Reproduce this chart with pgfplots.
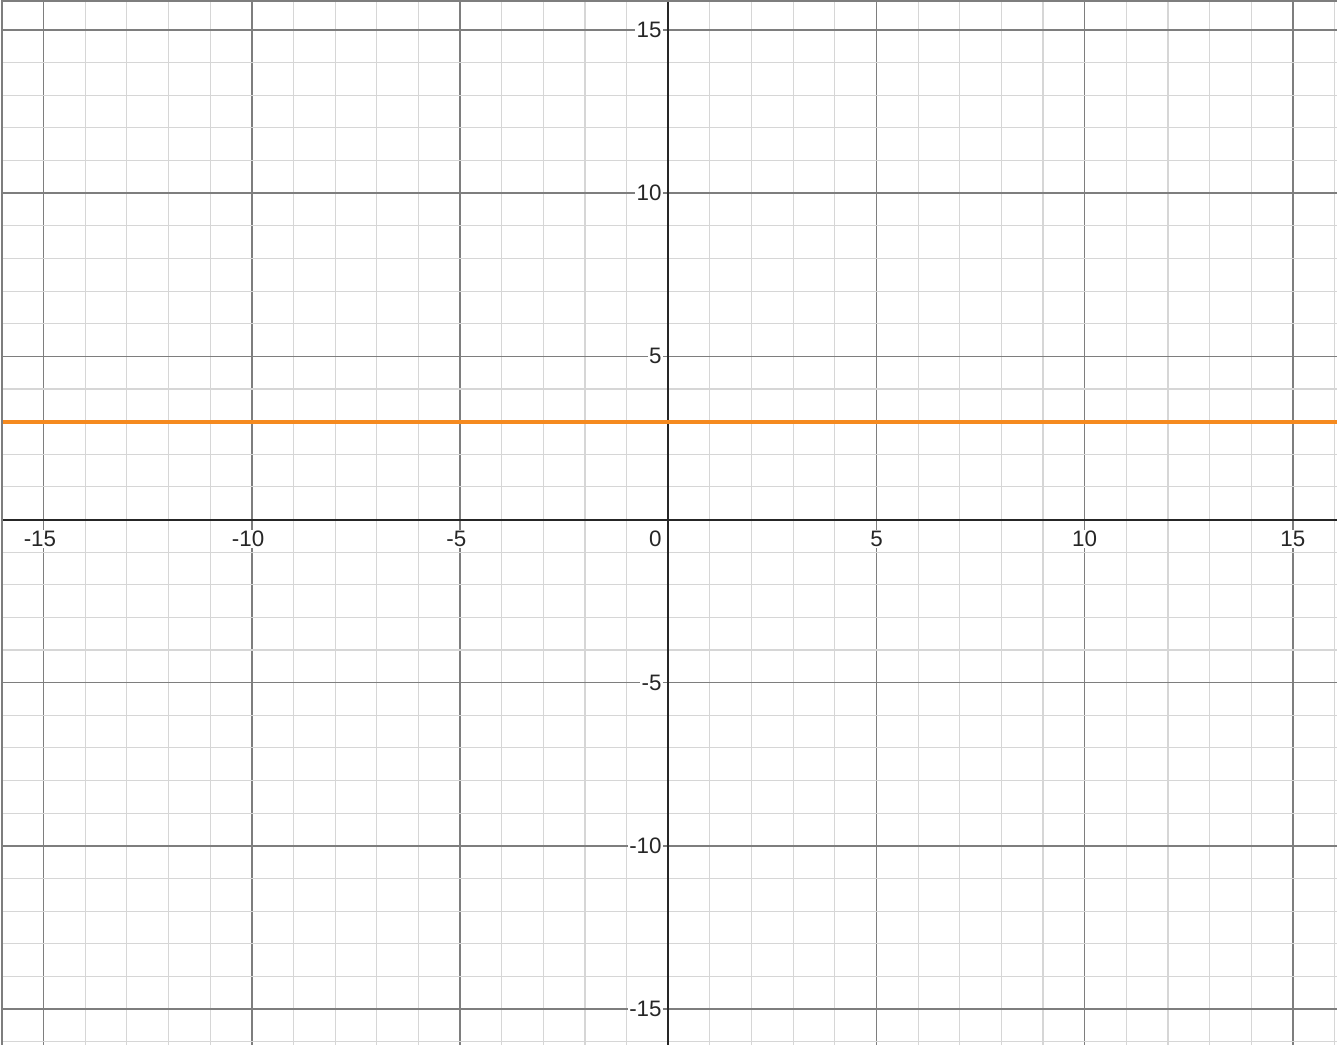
\documentclass[border=0pt]{standalone}
\usepackage{fontspec}
\setmainfont{Liberation Sans}
\usepackage{pgfplots}
\pgfplotsset{compat=1.18}
\definecolor{desmosorange}{HTML}{F58A1F}
\definecolor{majgrid}{HTML}{7E7E7E}
\definecolor{mingrid}{HTML}{D6D6D6}
\tikzset{lab/.style={font=\fontsize{22.5}{26}\selectfont, text=black!85, fill=white, inner sep=1.5bp},
  xl/.style={lab, anchor=north, yshift=-10bp},
  yl/.style={lab, anchor=east, xshift=-5bp}}
\begin{document}
\begin{tikzpicture}
\begin{axis}[
  set layers=standard,
  width=1339bp, height=1047bp, scale only axis,
  xmin=-16.0, xmax=16.06, ymin=-16.1, ymax=15.89,
  axis lines=middle,
  axis line style={-, line width=2bp, black!85},
  xtick={-15,-10,-5,0,5,10,15},
  ytick={-15,-10,-5,0,5,10,15},
  xticklabels={}, yticklabels={},
  minor xtick={-16,-14,-13,-12,-11,-9,-8,-7,-6,-4,-3,-2,-1,1,2,3,4,6,7,8,9,11,12,13,14,16},
  minor ytick={-16,-14,-13,-12,-11,-9,-8,-7,-6,-4,-3,-2,-1,1,2,3,4,6,7,8,9,11,12,13,14},
  major tick length=0pt, minor tick length=0pt,
  grid=both,
  major grid style={line width=1.5bp, majgrid},
  minor grid style={line width=1.1bp, mingrid},
  clip=false,
]
\addplot[desmosorange, line width=4bp] coordinates {(-16.0,3) (16.06,3)};
\draw[majgrid, line width=1.5bp] (rel axis cs:0,0) -- (rel axis cs:0,1) -- (rel axis cs:1,1);
\node[xl] at (axis cs:-15,0) {\llap{-}15};
\node[xl] at (axis cs:-10,0) {\llap{-}10};
\node[xl] at (axis cs:-5,0) {\llap{-}5};
\node[xl] at (axis cs:5,0) {5};
\node[xl] at (axis cs:10,0) {10};
\node[xl] at (axis cs:15,0) {15};
\node[yl] at (axis cs:0,-15) {-15};
\node[yl] at (axis cs:0,-10) {-10};
\node[yl] at (axis cs:0,-5) {-5};
\node[yl] at (axis cs:0,5) {5};
\node[yl] at (axis cs:0,10) {10};
\node[yl] at (axis cs:0,15) {15};
\node[lab, anchor=north east, xshift=-5bp, yshift=-10bp] at (axis cs:0,0) {0};
\end{axis}
\end{tikzpicture}
\end{document}
